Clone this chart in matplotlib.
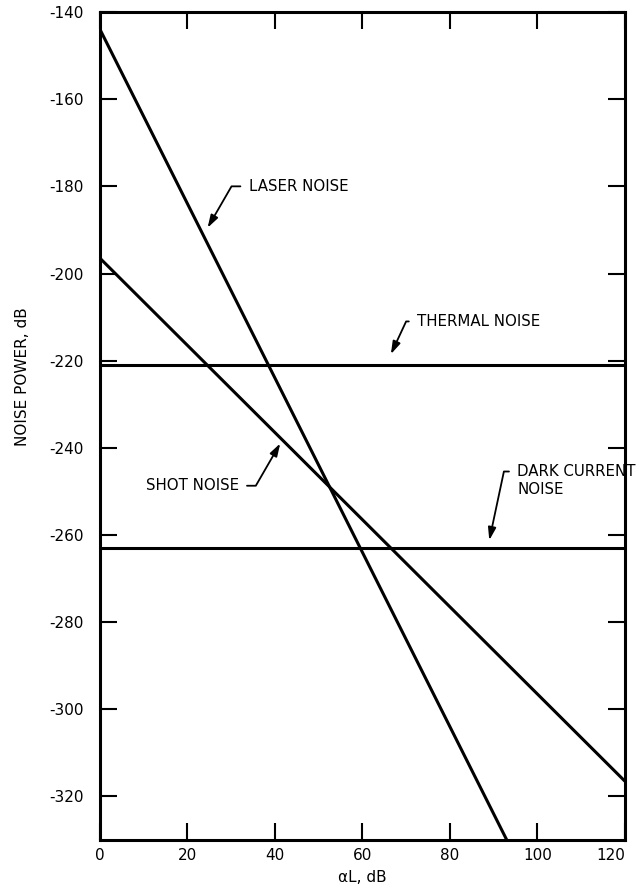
import numpy as np
import matplotlib.pyplot as plt

plt.rcParams['font.family'] = 'DejaVu Sans'
plt.rcParams['axes.unicode_minus'] = False

# noise power curves vs alpha*L (dB)
laser_x = [0, 93]
laser_y = [-144, -330]
shot_x = [0, 120]
shot_y = [-196.5, -316.5]
thermal_x = [0, 120]
thermal_y = [-221, -221]
dark_x = [0, 120]
dark_y = [-263, -263]

x_ticks = [0, 20, 40, 60, 80, 100, 120]
y_ticks = [-140, -160, -180, -200, -220, -240, -260, -280, -300, -320]

# annotation: label, text position, arrow tip, hook angle
labels = ["LASER NOISE", "THERMAL NOISE", "SHOT NOISE", "DARK CURRENT\nNOISE"]
text_xy = [(34, -180), (72.5, -211), (31.7, -248.7), (95.4, -243.8)]
tip_xy = [(24.6, -189.5), (66.5, -218.5), (41.2, -239.0), (89.0, -261.2)]
angles = [60, 65, 60, 78]
ha_list = ["left", "left", "right", "left"]
relpos_list = [(0, 0.5), (0, 0.5), (1, 0.5), (0, 0.78)]

fig = plt.figure(figsize=(6.37, 8.91), dpi=100)
ax = fig.add_axes([0.157, 0.0572, 0.824, 0.9293])

lw = 2.2
ax.plot(laser_x, laser_y, color="black", lw=lw, solid_capstyle="butt")
ax.plot(shot_x, shot_y, color="black", lw=lw, solid_capstyle="butt")
ax.plot(thermal_x, thermal_y, color="black", lw=lw)
ax.plot(dark_x, dark_y, color="black", lw=lw)

for lab, txy, tip, ang, ha, rp in zip(labels, text_xy, tip_xy, angles, ha_list, relpos_list):
    ax.annotate(lab, xy=tip, xytext=txy, ha=ha,
                va="center" if "\n" not in lab else "top",
                fontsize=10.8, linespacing=1.2,
                arrowprops=dict(arrowstyle="-|>,head_length=0.7,head_width=0.22",
                                color="black", lw=1.3, relpos=rp,
                                shrinkA=4, shrinkB=0,
                                connectionstyle="angle,angleA=0,angleB=%d,rad=0" % ang))

ax.set_xlim(0, 120)
ax.set_ylim(-330, -140)
ax.set_xticks(x_ticks)
ax.set_yticks(y_ticks)
ax.tick_params(direction="in", top=True, right=True, length=12, width=1.5,
               labelsize=11)
ax.tick_params(axis="x", pad=6)
ax.tick_params(axis="y", pad=12)
for s in ax.spines.values():
    s.set_linewidth(2.2)
ax.get_xticklabels()[-1].set_horizontalalignment("right")

ax.set_xlabel("αL, dB", fontsize=11)
ax.set_ylabel("NOISE POWER, dB", fontsize=11)
ax.yaxis.set_label_coords(-0.133, 0.56)
ax.xaxis.set_label_coords(0.5, -0.036)

fig.savefig("out.png", dpi=100)
